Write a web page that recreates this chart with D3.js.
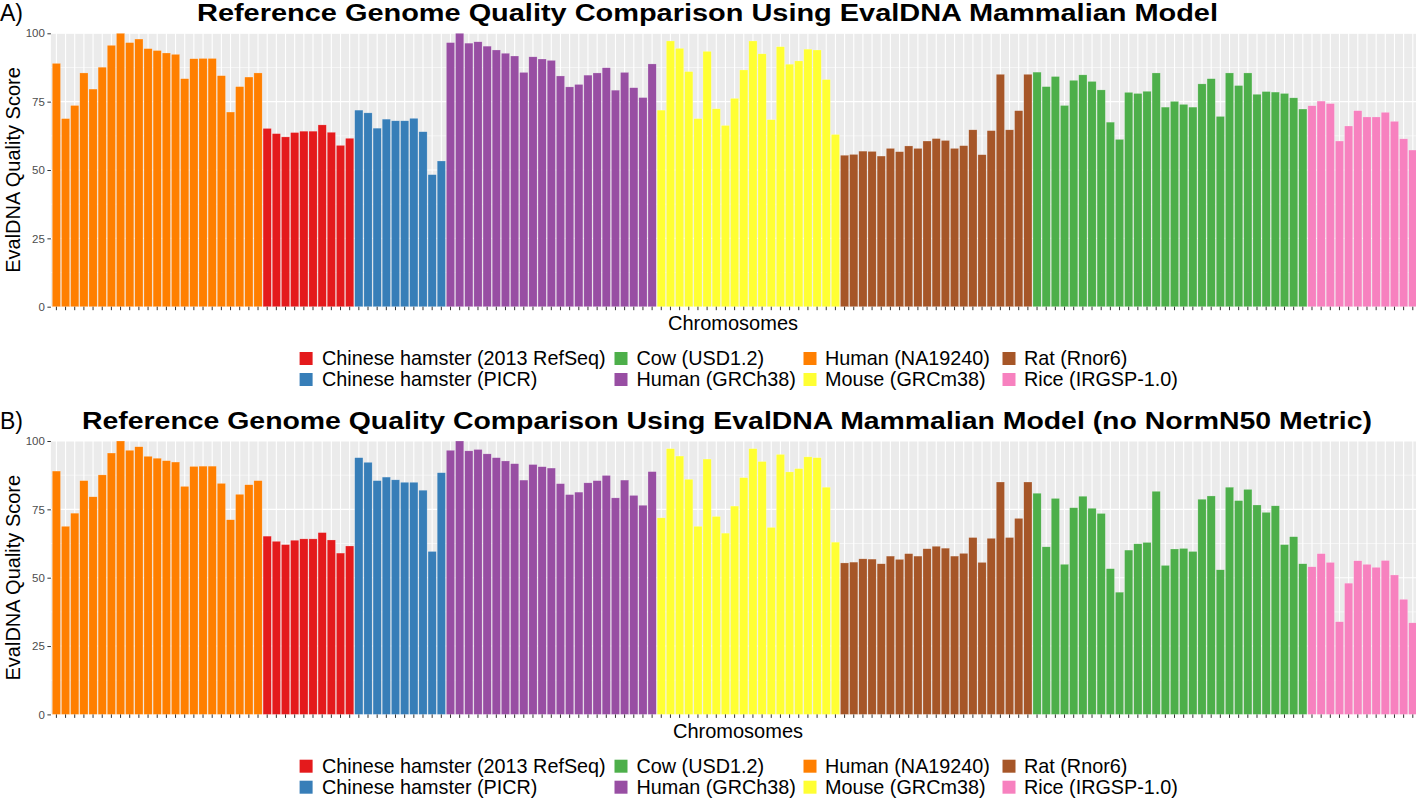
<!DOCTYPE html>
<html><head><meta charset="utf-8">
<script src="https://cdn.jsdelivr.net/npm/d3@7"></script>
<style>
body{margin:0;background:#fff}
svg{display:block}
text{font-family:"Liberation Sans",Arial,Helvetica,sans-serif}
</style>
</head><body>
<svg id="chart" width="1416" height="799"></svg>
<script>
// ---------- data ----------
const species = ["Chinese hamster (2013 RefSeq)", "Chinese hamster (PICR)", "Cow (USD1.2)", "Human (GRCh38)",
                 "Human (NA19240)", "Mouse (GRCm38)", "Rat (Rnor6)", "Rice (IRGSP-1.0)"];
const speciesColors = ["#E41A1C", "#377EB8", "#4DAF4A", "#984EA3", "#FF7F00", "#FFFF33", "#A65628", "#F781BF"];
const barGroupOrder = ["Human (NA19240)", "Chinese hamster (2013 RefSeq)", "Chinese hamster (PICR)", "Human (GRCh38)",
                       "Mouse (GRCm38)", "Rat (Rnor6)", "Cow (USD1.2)", "Rice (IRGSP-1.0)"];
const yTicks = [0, 25, 50, 75, 100];
const yMinorTicks = [12.5, 37.5, 62.5, 87.5];

const humanNA19240 = [89, 68.8, 73.6, 85.5, 79.6, 87.6, 95.6, 100, 96.6, 97.9, 94.4, 93.7, 92.8, 92.3, 83.4, 90.7, 90.8, 90.8, 84.5, 71.2, 80.5, 84.0, 85.5];
const hamsterRefSeq = [65.2, 63.3, 62.1, 63.7, 64.2, 64.2, 66.5, 63.8, 59.0, 61.6];
const hamsterPICR_A = [71.9, 70.9, 65.3, 68.6, 68.0, 68.0, 68.9, 64.0, 48.3, 53.3];
const hamsterPICR_B = [93.9, 92.2, 85.5, 86.8, 85.8, 84.9, 84.9, 82.0, 59.6, 88.4];
const humanGRCh38 = [96.6, 100, 96.4, 96.9, 95.3, 93.9, 92.7, 91.7, 85.7, 91.4, 90.6, 90.1, 84.4, 80.4, 81.3, 84.7, 85.5, 87.4, 79.2, 85.7, 80.1, 76.5, 88.8];
const mouseGRCm38 = [71.9, 97.2, 94.5, 86.0, 68.8, 93.4, 72.4, 66.3, 76.2, 86.6, 97.2, 92.5, 68.4, 95.1, 88.7, 89.9, 94.2, 93.9, 83.1, 63.0];
const ratRnor6 = [55.4, 55.7, 56.9, 56.8, 55.1, 57.9, 56.7, 58.8, 57.9, 60.6, 61.5, 60.8, 57.9, 58.9, 64.7, 55.6, 64.4, 85.0, 64.7, 71.7, 85.0];
const cowUSD_A = [85.8, 80.5, 84.2, 73.6, 82.8, 84.8, 82.4, 79.3, 67.5, 61.2, 78.4, 78.0, 78.8, 85.5, 73.0, 75.1, 74.0, 73.0, 81.5, 83.4, 69.6, 85.5, 80.9, 85.5, 77.7, 78.7, 78.5, 78.0, 76.4, 72.3];
const cowUSD_B = [80.9, 61.3, 79.0, 54.9, 75.6, 79.8, 75.4, 73.5, 53.3, 44.7, 60.1, 62.4, 62.9, 81.6, 54.5, 60.5, 60.7, 59.6, 78.7, 79.9, 52.9, 83.1, 78.2, 82.3, 76.6, 73.9, 76.3, 62.1, 65.0, 55.1];
const riceIRGSP_A = [73.5, 75.2, 74.3, 60.6, 66.1, 71.7, 69.4, 69.4, 71.1, 67.8, 61.4, 57.3];
const riceIRGSP_B = [54.0, 58.8, 55.6, 33.9, 48.0, 56.2, 54.9, 53.8, 56.3, 51.0, 42.1, 33.5];

const panelLabels = ["A)", "B)"];
const panelTitles = ["Reference Genome Quality Comparison Using EvalDNA Mammalian Model",
                     "Reference Genome Quality Comparison Using EvalDNA Mammalian Model (no NormN50 Metric)"];
const panelSeries = [
  [humanNA19240, hamsterRefSeq, hamsterPICR_A, humanGRCh38, mouseGRCm38, ratRnor6, cowUSD_A, riceIRGSP_A],
  [humanNA19240, hamsterRefSeq, hamsterPICR_B, humanGRCh38, mouseGRCm38, ratRnor6, cowUSD_B, riceIRGSP_B]
];
const yTitle = "EvalDNA Quality Score";
const xTitle = "Chromosomes";

// ---------- layout ----------
const svg = d3.select("#chart");
const color = d3.scaleOrdinal().domain(species).range(speciesColors);
const panelShift = 407.7;
const panelLeft = 50.9, panelRight = 1418.3, panelTop0 = 33.3, panelBottom0 = 306.7;
const titleLayout = [{x: 197, w: 1021}, {x: 82, w: 1290}];
const legendKeyX = [299.6, 614.5, 803.5, 1002.5];
const legendTextX = [322, 636.5, 825, 1024];

panelSeries.forEach((series, pi) => {
  const dy = pi * panelShift;
  const top = panelTop0 + dy, bottom = panelBottom0 + dy;
  const rows = [];
  series.forEach((vals, gi) => {
    vals.forEach((v, i) => rows.push({id: barGroupOrder[gi] + "#" + (i + 1), group: barGroupOrder[gi], value: v}));
  });

  const x = d3.scaleBand().domain(rows.map(d => d.id)).range([panelLeft, panelRight])
              .paddingInner(0.1).paddingOuter(0.15);
  const y = d3.scaleLinear().domain([0, 100]).range([bottom, top]);

  const g = svg.append("g");
  g.append("rect").attr("x", panelLeft).attr("y", top).attr("width", panelRight - panelLeft)
    .attr("height", bottom - top).attr("fill", "#EBEBEB");
  g.selectAll(".ymin").data(yMinorTicks).join("line")
    .attr("x1", panelLeft).attr("x2", panelRight).attr("y1", d => y(d)).attr("y2", d => y(d))
    .attr("stroke", "#fff").attr("stroke-width", 0.55);
  g.selectAll(".ymaj").data(yTicks).join("line")
    .attr("x1", panelLeft).attr("x2", panelRight).attr("y1", d => y(d)).attr("y2", d => y(d))
    .attr("stroke", "#fff").attr("stroke-width", 1.1);
  g.selectAll(".xmaj").data(rows).join("line")
    .attr("x1", d => x(d.id) + x.bandwidth() / 2).attr("x2", d => x(d.id) + x.bandwidth() / 2)
    .attr("y1", top).attr("y2", bottom).attr("stroke", "#fff").attr("stroke-width", 1.1);

  g.selectAll(".bar").data(rows).join("rect")
    .attr("x", d => x(d.id)).attr("width", x.bandwidth())
    .attr("y", d => y(d.value)).attr("height", d => y(0) - y(d.value))
    .attr("fill", d => color(d.group))
    .attr("stroke", "rgba(255,255,255,0.45)").attr("stroke-width", 0.5);

  const ya = g.append("g").attr("transform", `translate(${panelLeft},0)`)
    .call(d3.axisLeft(y).tickValues(yTicks).tickSize(3.5).tickPadding(2.5));
  ya.select(".domain").remove();
  ya.selectAll("line").attr("stroke", "#333").attr("stroke-width", 1);
  ya.selectAll("text").attr("fill", "#4D4D4D").attr("font-size", "11.5px")
    .style("font-family", '"Liberation Sans",Arial,sans-serif');

  const xa = g.append("g").attr("transform", `translate(0,${bottom})`)
    .call(d3.axisBottom(x).tickSize(3.5).tickFormat(""));
  xa.select(".domain").remove();
  xa.selectAll("line").attr("stroke", "#333").attr("stroke-width", 1);

  // texts
  svg.append("text").attr("x", 0).attr("y", 21 + dy).attr("font-size", 23).text(panelLabels[pi]);
  svg.append("text").attr("x", titleLayout[pi].x).attr("y", 21 + dy)
    .attr("font-size", 23).attr("font-weight", "bold")
    .attr("textLength", titleLayout[pi].w).attr("lengthAdjust", "spacingAndGlyphs")
    .text(panelTitles[pi]);
  svg.append("text").attr("transform", `translate(20,${(top + bottom) / 2}) rotate(-90)`)
    .attr("text-anchor", "middle").attr("font-size", 20).text(yTitle);
  svg.append("text").attr("x", 733 + (pi ? 5 : 0)).attr("y", 330 + dy)
    .attr("text-anchor", "middle").attr("font-size", 20).text(xTitle);

  // legend: 2 rows, filled column-wise
  const lg = svg.append("g");
  species.forEach((s, i) => {
    const col = Math.floor(i / 2), row = i % 2;
    const ky = 352 + row * 21 + dy;
    lg.append("rect").attr("x", legendKeyX[col]).attr("y", ky).attr("width", 13).attr("height", 13)
      .attr("fill", color(s));
    lg.append("text").attr("x", legendTextX[col]).attr("y", ky + 13).attr("font-size", 19.8)
      .attr("fill", "#000").text(s);
  });
});
</script>
</body></html>
